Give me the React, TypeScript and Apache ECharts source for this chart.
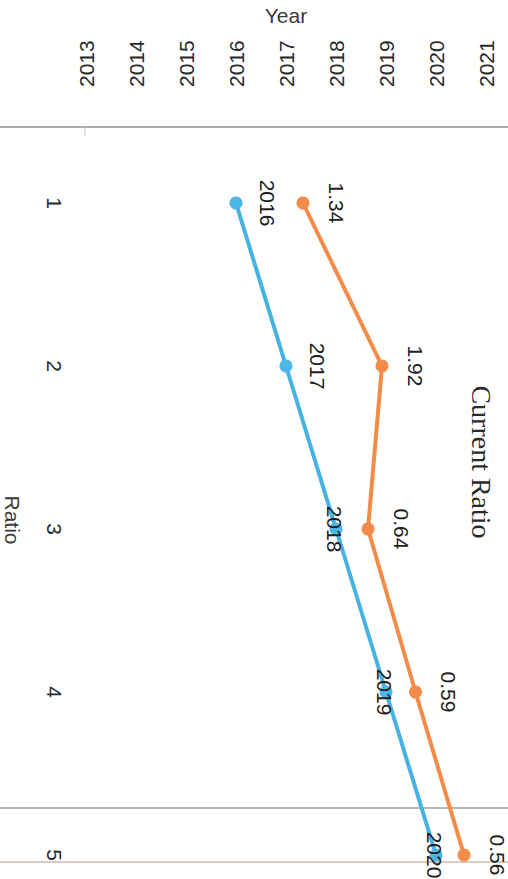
import React, { useEffect, useRef } from "react";
import * as echarts from "echarts";

const ratioTicks = ["1", "2", "3", "4", "5"];
const yearMin = 2013;
const yearMax = 2021;
const years = [2016, 2017, 2018, 2019, 2020];
const currentRatio = [1.34, 1.92, 0.64, 0.59, 0.56];

const FONT = "'Liberation Sans', Arial, sans-serif";

export default function App() {
  const ref = useRef<HTMLDivElement>(null);
  useEffect(() => {
    if (!ref.current) return;
    const chart = echarts.init(ref.current, null, { renderer: "svg" });
    const labelBase = {
      show: true,
      position: "inside",
      rotate: -90,
      align: "center",
      verticalAlign: "middle",
      fontSize: 21,
      fontFamily: FONT,
      color: "#1e1e1e",
      formatter: (p: any) => String(p.value),
    };
    chart.setOption({
      animation: false,
      backgroundColor: "#ffffff",
      grid: { left: 86, right: 22, top: 197, bottom: 24, containLabel: false },
      xAxis: {
        type: "value",
        position: "top",
        offset: 70,
        min: yearMin,
        max: yearMax,
        interval: 1,
        name: "Year",
        nameLocation: "middle",
        nameGap: 107,
        nameTextStyle: { fontSize: 21, fontFamily: FONT, color: "#3a3a3a" },
        axisLine: { show: false },
        axisTick: { show: false },
        splitLine: { show: false },
        axisLabel: {
          rotate: -90,
          margin: 46,
          fontSize: 21,
          fontFamily: FONT,
          color: "#2a2a2a",
          formatter: (v: number) => String(v),
        },
      },
      yAxis: {
        type: "category",
        inverse: true,
        boundaryGap: false,
        data: ratioTicks,
        axisLine: { show: false },
        axisTick: { show: false },
        splitLine: { show: false },
        axisLabel: {
          rotate: -90,
          margin: 21,
          fontSize: 21,
          fontFamily: FONT,
          color: "#2a2a2a",
        },
      },
      graphic: [
        { type: "line", shape: { x1: 0, y1: 127, x2: 508, y2: 127 }, style: { stroke: "#8f8f8f", lineWidth: 1.5 } },
        { type: "line", shape: { x1: 85, y1: 127, x2: 85, y2: 136 }, style: { stroke: "#c8c8c8", lineWidth: 1 } },
        { type: "line", shape: { x1: 0, y1: 808, x2: 508, y2: 808 }, style: { stroke: "#707070", lineWidth: 1.2 } },
        { type: "line", shape: { x1: 0, y1: 862, x2: 508, y2: 862 }, style: { stroke: "#dccbc4", lineWidth: 2 } },
        {
          type: "text",
          x: 12,
          y: 520,
          rotation: -Math.PI / 2,
          style: { text: "Ratio", fontSize: 21, fontFamily: FONT, fill: "#3a3a3a", align: "center", verticalAlign: "middle" },
        },
        {
          type: "text",
          x: 481,
          y: 462,
          rotation: -Math.PI / 2,
          style: {
            text: "Current Ratio",
            fontSize: 28,
            fontFamily: "'Liberation Serif', 'Times New Roman', serif",
            fill: "#2a2a2a",
            align: "center",
            verticalAlign: "middle",
          },
        },
      ],
      series: [
        {
          name: "Year",
          type: "line",
          stack: "total",
          data: years.map((v, i) => ({ value: v, label: { offset: [0, i < 2 ? -31 : 2] } })),
          symbol: "circle",
          symbolSize: 13,
          lineStyle: { width: 4, color: "#47b3e3" },
          itemStyle: { color: "#4cb6e6" },
          label: labelBase,
          z: 3,
        },
        {
          name: "Current Ratio",
          type: "line",
          stack: "total",
          data: currentRatio.map((v) => ({ value: v })),
          symbol: "circle",
          symbolSize: 13,
          lineStyle: { width: 4, color: "#f38b49" },
          itemStyle: { color: "#f38b49" },
          label: { ...labelBase, offset: [0, -33] },
          z: 3,
        },
      ],
    });
    return () => chart.dispose();
  }, []);
  return (
    <div
      ref={ref}
      style={{ position: "fixed", left: 0, top: 0, width: 508, height: 879, background: "#fff" }}
    />
  );
}
